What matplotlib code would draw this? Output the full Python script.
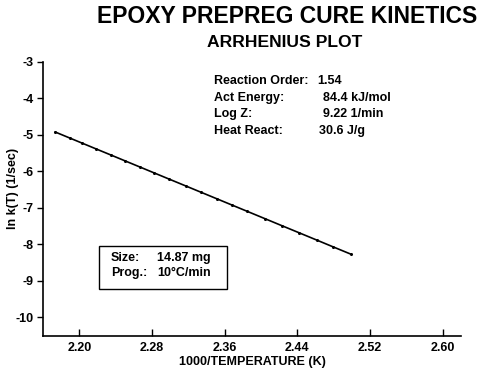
import matplotlib
matplotlib.use("Agg")
import matplotlib.pyplot as plt
from matplotlib.patches import Rectangle

# inverse temperature (1000/K) and ln k(T)
inv_temp = [2.1736, 2.1901, 2.2033, 2.2187, 2.2352, 2.2506, 2.2671, 2.2825,
            2.2990, 2.3177, 2.3342, 2.3518, 2.3683, 2.3848, 2.4046, 2.4233,
            2.4420, 2.4618, 2.4794, 2.4992]
ln_k = [-4.923, -5.093, -5.229, -5.388, -5.557, -5.716, -5.886, -6.045,
        -6.215, -6.407, -6.577, -6.758, -6.928, -7.098, -7.302, -7.495,
        -7.687, -7.891, -8.073, -8.276]

x_ticks = [2.20, 2.28, 2.36, 2.44, 2.52, 2.60]
y_ticks = [-3, -4, -5, -6, -7, -8, -9, -10]

info_labels = ["Reaction Order:", "Act Energy:", "Log Z:", "Heat React:"]
info_values = ["1.54", "84.4 kJ/mol", "9.22 1/min", "30.6 J/g"]
box_labels = ["Size:", "Prog.:"]
box_values = ["14.87 mg", "10\u00b0C/min"]

plt.rcParams["font.family"] = ["Liberation Sans", "DejaVu Sans"]
plt.rcParams["font.weight"] = "bold"

fig = plt.figure(figsize=(5.0, 3.71), dpi=100)
ax = fig.add_axes([0.086, 0.094, 0.836, 0.739])

ax.plot(inv_temp, ln_k, color="black", linewidth=1.2, marker="o",
        markersize=1.2)

ax.set_xlim(2.16, 2.62)
ax.set_ylim(-10.52, -3)
ax.set_xticks(x_ticks)
ax.set_xticklabels([f"{v:.2f}" for v in x_ticks])
ax.set_yticks(y_ticks)
ax.set_yticklabels([str(v) for v in y_ticks])

for side in ["top", "right"]:
    ax.spines[side].set_visible(False)
ax.spines["left"].set_linewidth(1.2)
ax.spines["bottom"].set_linewidth(1.2)
ax.tick_params(axis="x", direction="in", length=5, width=1.0, labelsize=9, pad=4)
ax.tick_params(axis="y", direction="out", length=4, width=1.0, labelsize=9, pad=3)

ax.set_xlabel("1000/TEMPERATURE (K)", fontsize=9, fontweight="bold", labelpad=2)
fig.text(13 / 500, 1 - 188 / 371, "ln k(T) (1/sec)", rotation=90,
         ha="center", va="center", fontsize=9, fontweight="bold")

fig.text(0.574, 0.955, "EPOXY PREPREG CURE KINETICS", ha="center", va="center",
         fontsize=16.5, fontweight="bold")
fig.text(0.569, 0.885, "ARRHENIUS PLOT", ha="center", va="center",
         fontsize=12.6, fontweight="bold")

# fit results
value_x = [317, 323, 323, 319]
for i, (lab, val) in enumerate(zip(info_labels, info_values)):
    y = 1 - (81 + i * 16.6) / 371
    fig.text(214 / 500, y, lab, ha="left", va="center", fontsize=9, fontweight="bold")
    fig.text(value_x[i] / 500, y, val, ha="left", va="center", fontsize=9,
             fontweight="bold")

# sample box
fig.patches.append(Rectangle((99 / 500, 1 - 289 / 371), 128 / 500, 43 / 371,
                             transform=fig.transFigure, fill=False,
                             edgecolor="black", linewidth=1.0))
for i, (lab, val) in enumerate(zip(box_labels, box_values)):
    y = 1 - (258 + i * 15) / 371
    fig.text(111 / 500, y, lab, ha="left", va="center", fontsize=9, fontweight="bold")
    fig.text(157 / 500, y, val, ha="left", va="center", fontsize=9, fontweight="bold")

fig.savefig("out.png", dpi=100, facecolor="white")
